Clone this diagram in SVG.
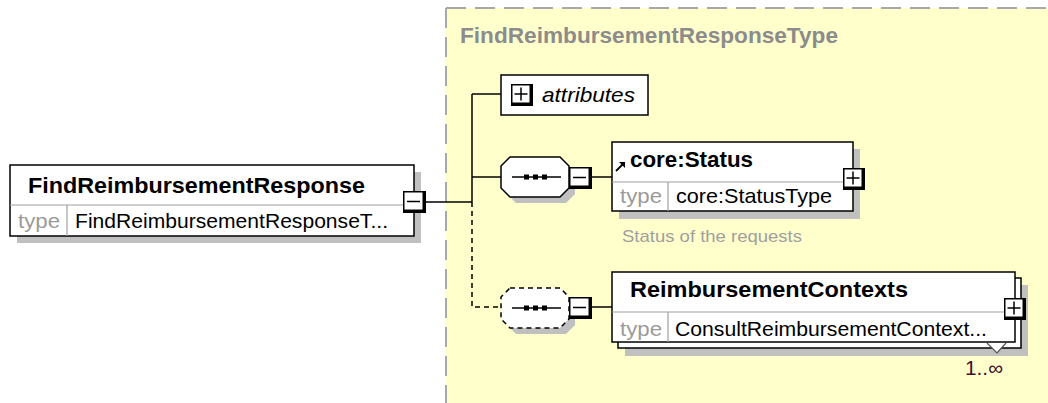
<svg xmlns="http://www.w3.org/2000/svg" width="1048" height="403" viewBox="0 0 1048 403">
<style>
text{font-family:"Liberation Sans",Arial,sans-serif}
.b{font-weight:bold;font-size:22.5px;fill:#000}
.r{font-size:21px;fill:#000}
.g{font-size:21px;fill:#9a9a9a}
.box{fill:#fff;stroke:#000;stroke-width:1.5}
.div{stroke:#a0a0a0;stroke-width:1.2;fill:none}
.sh{fill:#c0c0c0}
.ln{stroke:#000;stroke-width:1.5;fill:none}
.dl{stroke:#000;stroke-width:1.5;fill:none;stroke-dasharray:5 4}
</style>
<defs>
<g id="minus">
<rect x="0" y="0" width="23" height="22" fill="#000"/>
<rect x="1.5" y="1.5" width="18" height="17" fill="#fff"/>
<line x1="4" y1="10.5" x2="17" y2="10.5" stroke="#000" stroke-width="1.5"/>
</g>
<g id="plus">
<rect x="0" y="0" width="22" height="22" fill="#000"/>
<rect x="1.5" y="1.5" width="17" height="17" fill="#fff"/>
<line x1="3.5" y1="10" x2="16.5" y2="10" stroke="#000" stroke-width="1.5"/>
<line x1="10" y1="3.5" x2="10" y2="16.5" stroke="#000" stroke-width="1.5"/>
</g>
<path id="oct" d="M9,0 H59 L68,9 V31 L59,40 H9 L0,31 V9 Z"/>
<g id="dots">
<line x1="11" y1="20" x2="60" y2="20" stroke="#000" stroke-width="1.5"/>
<rect x="23" y="17.5" width="5" height="5" fill="#000"/>
<rect x="32" y="17.5" width="5" height="5" fill="#000"/>
<rect x="41" y="17.5" width="5" height="5" fill="#000"/>
</g>
</defs>

<g id="typeBackground">
<rect x="446" y="8" width="602" height="395" fill="#ffffcc"/>
<path d="M446,8 H1048 M446,8 V403" stroke="#a8a8a8" stroke-width="2" stroke-dasharray="20 9" fill="none"/>
<text x="460" y="43" class="b" fill="#8c8c8c" style="fill:#8c8c8c" textLength="378" lengthAdjust="spacingAndGlyphs">FindReimbursementResponseType</text>
</g>

<g id="connectors">
<path class="ln" d="M426,202 H472"/>
<path class="ln" d="M472,94 V202"/>
<path class="ln" d="M472,94 H501"/>
<path class="ln" d="M472,177 H501"/>
<path class="ln" d="M592,177 H612"/>
<path class="dl" d="M472,202 V307 H501"/>
<path class="ln" d="M592,307 H612"/>
</g>

<g id="FindReimbursementResponse">
<rect class="sh" x="17" y="172" width="404" height="71"/>
<rect class="box" x="10" y="165" width="404" height="71"/>
<line class="div" x1="10" y1="205" x2="414" y2="205"/>
<line class="div" x1="67" y1="205" x2="67" y2="236"/>
<text x="28" y="193" class="b" textLength="337" lengthAdjust="spacingAndGlyphs">FindReimbursementResponse</text>
<text x="18" y="228" class="g" textLength="42" lengthAdjust="spacingAndGlyphs">type</text>
<text x="75" y="228" class="r" textLength="313" lengthAdjust="spacingAndGlyphs">FindReimbursementResponseT...</text>
<use href="#minus" x="403" y="191"/>
</g>

<g id="attributes">
<rect class="box" x="501" y="75" width="147" height="40"/>
<use href="#plus" x="511" y="84"/>
<text x="542" y="102" class="r" font-style="italic" textLength="93" lengthAdjust="spacingAndGlyphs">attributes</text>
</g>

<g id="sequence">
<use href="#oct" x="507" y="163" class="sh"/>
<use href="#oct" x="501" y="157" fill="#fff" stroke="#000" stroke-width="1.5"/>
<use href="#dots" x="501" y="157"/>
<use href="#minus" x="569" y="167"/>
</g>

<g id="coreStatus">
<rect class="sh" x="619" y="149" width="241" height="70"/>
<rect class="box" x="612" y="142" width="241" height="69"/>
<line class="div" x1="612" y1="182" x2="853" y2="182"/>
<line class="div" x1="668" y1="182" x2="668" y2="211"/>
<path d="M616,171 L624,163" stroke="#000" stroke-width="1.8"/>
<path d="M619,162 H625 V168 Z" fill="#000"/>
<text x="630" y="167" class="b" textLength="123" lengthAdjust="spacingAndGlyphs">core:Status</text>
<text x="620" y="203" class="g" textLength="42" lengthAdjust="spacingAndGlyphs">type</text>
<text x="676" y="203" class="r" textLength="156" lengthAdjust="spacingAndGlyphs">core:StatusType</text>
<use href="#plus" x="843" y="168"/>
<text x="622" y="242" font-size="17" fill="#a0a0a0" textLength="180" lengthAdjust="spacingAndGlyphs">Status of the requests</text>
</g>

<g id="optionalSequence">
<use href="#oct" x="507" y="294" class="sh"/>
<use href="#oct" x="501" y="288" fill="#fff" stroke="#000" stroke-width="1.5" stroke-dasharray="5 4"/>
<use href="#dots" x="501" y="288"/>
<use href="#minus" x="569" y="297"/>
</g>

<g id="ReimbursementContexts">
<rect class="sh" x="625" y="285" width="403" height="71"/>
<rect class="box" x="618" y="278" width="403" height="70"/>
<rect class="box" x="612" y="272" width="403" height="70"/>
<line class="div" x1="612" y1="312" x2="1015" y2="312"/>
<line class="div" x1="668" y1="312" x2="668" y2="342"/>
<text x="630" y="297" class="b" textLength="278" lengthAdjust="spacingAndGlyphs">ReimbursementContexts</text>
<text x="620" y="336" class="g" textLength="42" lengthAdjust="spacingAndGlyphs">type</text>
<text x="675" y="336" class="r" textLength="312" lengthAdjust="spacingAndGlyphs">ConsultReimbursementContext...</text>
<use href="#plus" x="1004" y="298"/>
<path d="M987,343 L997,353 L1006,343" fill="#fff" stroke="#505050" stroke-width="1.2"/>
<text x="965" y="375" font-size="20" fill="#401030" textLength="38" lengthAdjust="spacingAndGlyphs">1..∞</text>
</g>
</svg>
